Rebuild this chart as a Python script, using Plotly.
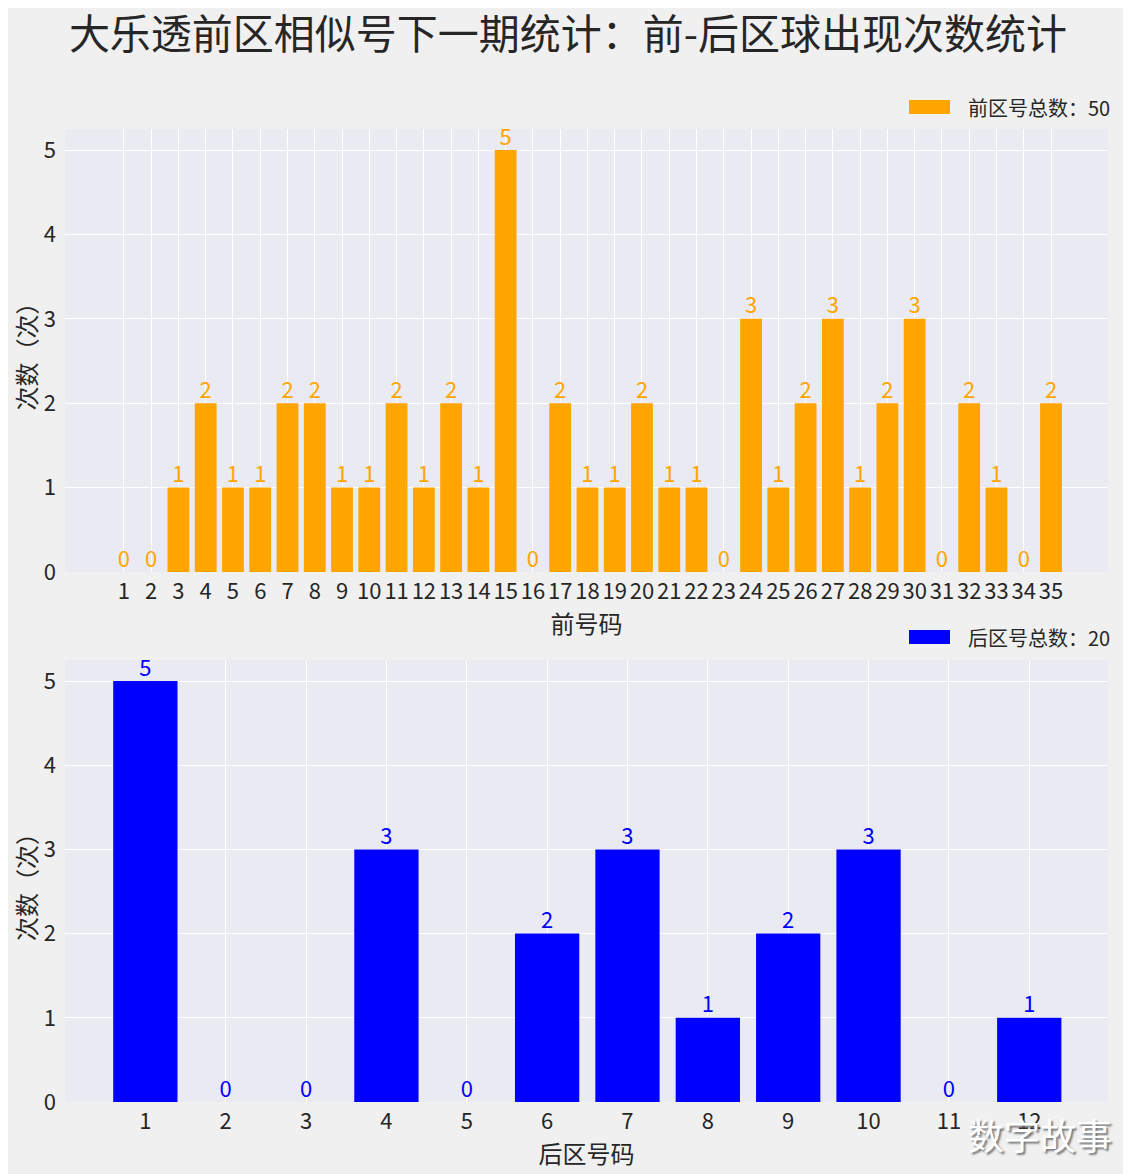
import plotly.graph_objects as go
from plotly.subplots import make_subplots

front_numbers = list(range(1, 36))
front_counts = [0, 0, 1, 2, 1, 1, 2, 2, 1, 1, 2, 1, 2, 1, 5, 0, 2, 1, 1, 2, 1, 1,
                0, 3, 1, 2, 3, 1, 2, 3, 0, 2, 1, 0, 2]
back_numbers = list(range(1, 13))
back_counts = [5, 0, 0, 3, 0, 2, 3, 1, 2, 3, 0, 1]

title = "大乐透前区相似号下一期统计：前-后区球出现次数统计"
front_legend = f"前区号总数：{sum(front_counts)}"
back_legend = f"后区号总数：{sum(back_counts)}"
y_title = "次数（次）"
front_xtitle = "前号码"
back_xtitle = "后区号码"
watermark = "数字故事"

FONT = "Noto Sans CJK SC, Noto Sans, sans-serif"
TXT = "#262626"
ORANGE = "#FFA500"
BLUE = "#0000FF"

OFF = 8  # browser body margin; page coords = figure coords + OFF
W, H = 1131 - OFF, 1174 - OFF
# plot areas in page pixels
PL, PR = 65, 1108
T1, B1 = 129, 572
T2, B2 = 660, 1102

ml = PL - OFF
mr = W - (PR - OFF)
mt = T1 - OFF
mb = H - (B2 - OFF)
ph = H - mt - mb
pw = W - ml - mr


def px_x(x):
    return (x - OFF - ml) / pw


def px_y(y):
    return (H - mb - (y - OFF)) / ph


top_dom = [px_y(B1), 1.0]
bot_dom = [0.0, px_y(T2)]

fig = make_subplots(rows=2, cols=1)

fig.add_trace(go.Bar(x=front_numbers, y=front_counts, width=0.8, marker_color=ORANGE,
                     marker_line_width=0, name=front_legend, showlegend=False), row=1, col=1)
fig.add_trace(go.Scatter(x=front_numbers, y=front_counts, mode="text",
                         text=[str(v) for v in front_counts], textposition="top center",
                         textfont=dict(color=ORANGE, size=22, family=FONT),
                         showlegend=False, hoverinfo="skip", cliponaxis=False), row=1, col=1)
fig.add_trace(go.Bar(x=back_numbers, y=back_counts, width=0.8, marker_color=BLUE,
                     marker_line_width=0, name=back_legend, showlegend=False), row=2, col=1)
fig.add_trace(go.Scatter(x=back_numbers, y=back_counts, mode="text",
                         text=[str(v) for v in back_counts], textposition="top center",
                         textfont=dict(color=BLUE, size=22, family=FONT),
                         showlegend=False, hoverinfo="skip", cliponaxis=False), row=2, col=1)

axis_common = dict(showgrid=True, gridcolor="white", gridwidth=1, zeroline=False,
                   showline=False, ticks="", tickfont=dict(size=22, color=TXT, family=FONT))
title_font = dict(size=24, color=TXT, family=FONT)

fig.update_xaxes(**axis_common, row=1, col=1, range=[-1.16, 37.09], tickmode="array",
                 tickvals=front_numbers, ticktext=[str(v) for v in front_numbers],
                 ticklabelstandoff=4,
                 title=dict(text=front_xtitle, font=title_font, standoff=2))
fig.update_xaxes(**axis_common, row=2, col=1, range=[0, 12.98], tickmode="array",
                 tickvals=back_numbers, ticktext=[str(v) for v in back_numbers],
                 ticklabelstandoff=4,
                 title=dict(text=back_xtitle, font=title_font, standoff=2))
for r in (1, 2):
    fig.update_yaxes(**axis_common, row=r, col=1, range=[0, 5.25], tickvals=[0, 1, 2, 3, 4, 5],
                     ticklabelstandoff=8,
                     title=dict(text=y_title, font=title_font, standoff=12))

fig.update_layout(
    width=W, height=H,
    margin=dict(l=ml, r=mr, t=mt, b=mb, autoexpand=False),
    paper_bgcolor="#F0F0F0", plot_bgcolor="#EAEAF2",
    font=dict(family=FONT, color=TXT),
    bargap=0.2,
    title=dict(text=title, x=px_x(568), xref="paper", xanchor="center",
               y=1 - (35 - OFF) / H, yanchor="middle",
               font=dict(size=41, color=TXT, family=FONT)),
    yaxis=dict(domain=top_dom), yaxis2=dict(domain=bot_dom),
    showlegend=False,
)

for (ytop, col, label) in [(100, ORANGE, front_legend), (630, BLUE, back_legend)]:
    fig.add_shape(type="rect", xref="paper", yref="paper",
                  x0=px_x(909), x1=px_x(950), y0=px_y(ytop + 14), y1=px_y(ytop),
                  fillcolor=col, line_width=0)
    fig.add_annotation(xref="paper", yref="paper", x=px_x(966), y=px_y(ytop + 7),
                       xanchor="left", yanchor="middle", showarrow=False, text=label,
                       font=dict(size=20, color=TXT, family=FONT))

fig.add_annotation(xref="paper", yref="paper", x=px_x(1114), y=px_y(1134),
                   xanchor="right", yanchor="middle", showarrow=False, text=watermark,
                   font=dict(size=36, color="white", family=FONT, shadow="2px 2px 2px #777"))

fig.write_html("out.html")
